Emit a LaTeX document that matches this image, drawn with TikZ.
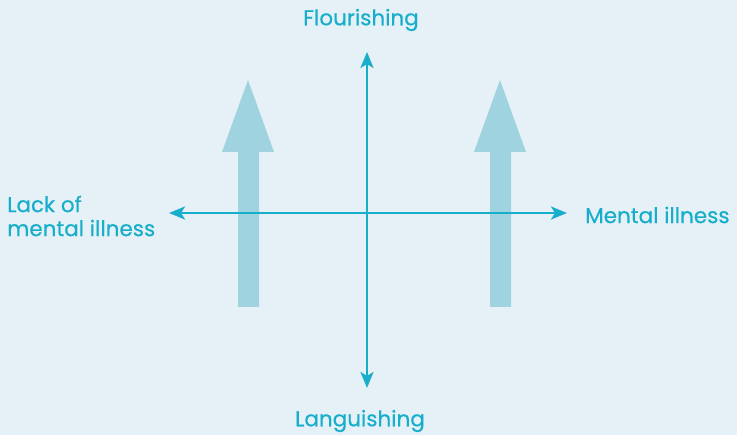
\documentclass[tikz,border=0pt]{standalone}
\usepackage{fontspec}
\setmainfont[FakeBold=0.4]{Poppins}
\usetikzlibrary{arrows.meta}
\definecolor{bg}{HTML}{E5F1F7}
\definecolor{axis}{HTML}{16AECA}
\definecolor{bigarrow}{HTML}{A0D3E0}
\tikzset{
  axisline/.style={draw=axis, line width=2.6pt, -{Stealth[length=16pt,width=13pt,inset=4pt]}},
  lbl/.style={text=axis, font=\fontsize{21.5}{24}\selectfont, inner sep=0pt},
  bigarr/.style={fill=bigarrow, draw=none}
}
\begin{document}
\begin{tikzpicture}[x=1pt,y=-1pt]
\fill[bg] (0,0) rectangle (737,435);
\useasboundingbox (0,0) rectangle (737,435);
% big arrows
\fill[bigarr] (238,307) -- (238,152) -- (222,152) -- (248,80) -- (274,152) -- (259,152) -- (259,307) -- cycle;
\fill[bigarr] (490,307) -- (490,152) -- (474,152) -- (500,80) -- (526,152) -- (511,152) -- (511,307) -- cycle;
% axes
\coordinate (c) at (367,213);
\coordinate (l) at (169,213);
\coordinate (r) at (567,213);
\coordinate (t) at (367,52);
\coordinate (b) at (367,388);
\draw[axisline] (c) -- (l);
\draw[axisline] (c) -- (r);
\draw[axisline] (c) -- (t);
\draw[axisline] (c) -- (b);
% labels
\node[lbl] (flour) at (361,20) {Flourishing};
\node[lbl] (lang) at (360,421) {Languishing};
\node[lbl, anchor=west] (mi) at (585,215) {Mental illness};
\node[lbl, anchor=west, align=left] (lack) at (7,216) {Lack of\\mental illness};
\end{tikzpicture}
\end{document}
